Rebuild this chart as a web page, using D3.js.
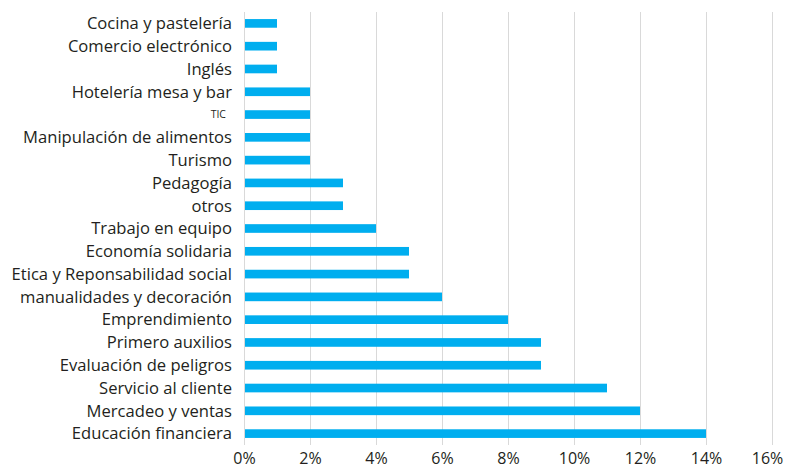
<!DOCTYPE html>
<html>
<head>
<meta charset="utf-8">
<script src="https://cdn.jsdelivr.net/npm/d3@7"></script>
<style>
  html, body { margin: 0; padding: 0; background: #fff; }
  svg { display: block; }
  text { font-family: "Open Sans", "Noto Sans", sans-serif; fill: #231f20; }
</style>
</head>
<body>
<svg id="chart" width="786" height="476"></svg>
<script>
// Course topics, top to bottom
const categories = [
  "Cocina y pastelería",
  "Comercio electrónico",
  "Inglés",
  "Hotelería mesa y bar",
  "TIC",
  "Manipulación de alimentos",
  "Turismo",
  "Pedagogía",
  "otros",
  "Trabajo en equipo",
  "Economía solidaria",
  "Etica y Reponsabilidad social",
  "manualidades y decoración",
  "Emprendimiento",
  "Primero auxilios",
  "Evaluación de peligros",
  "Servicio al cliente",
  "Mercadeo y ventas",
  "Educación financiera"
];
// Share of responses, in percent
const values = [1, 1, 1, 2, 2, 2, 2, 3, 3, 4, 5, 5, 6, 8, 9, 9, 11, 12, 14];
const tickValues = [0, 2, 4, 6, 8, 10, 12, 14, 16];

const svg = d3.select("#chart");
const margin = { top: 12, left: 244, right: 14, bottom: 31 };
const width = 786, height = 476;

const x = d3.scaleLinear().domain([0, 16]).range([margin.left, width - margin.right]);
const y = d3.scaleBand().domain(categories).range([margin.top, height - margin.bottom])
  .paddingInner(0.62).paddingOuter(0.31);

// Vertical gridlines
svg.append("g")
  .selectAll("line")
  .data(tickValues)
  .join("line")
  .attr("x1", d => Math.round(x(d)) + 0.5)
  .attr("x2", d => Math.round(x(d)) + 0.5)
  .attr("y1", margin.top)
  .attr("y2", height - margin.bottom)
  .attr("stroke", "#d9d9d9")
  .attr("stroke-width", 1);

// Bars
svg.append("g")
  .selectAll("rect")
  .data(values)
  .join("rect")
  .attr("x", x(0) + 1)
  .attr("y", (d, i) => y(categories[i]))
  .attr("width", d => x(d) - x(0) - 1)
  .attr("height", y.bandwidth())
  .attr("fill", "#00aeef");

// Category labels
svg.append("g")
  .selectAll("text")
  .data(categories)
  .join("text")
  .attr("x", d => d === "TIC" ? 226 : 232)
  .attr("y", d => y(d) + y.bandwidth() / 2)
  .attr("dy", "0.35em")
  .attr("text-anchor", "end")
  .style("font-size", d => d === "TIC" ? "10.5px" : "16.6px")
  .text(d => d);

// X axis tick labels
const xAxis = d3.axisBottom(x).tickValues(tickValues).tickFormat(d => d + "%").tickSize(0).tickPadding(0);
const gx = svg.append("g").attr("transform", `translate(0,${height - 18})`).call(xAxis);
gx.select(".domain").remove();
gx.selectAll("text")
  .attr("dy", "0.35em")
  .attr("y", 0)
  .attr("dx", d => d === 16 ? -5 : 0)
  .style("font-size", "16px")
  .style("font-family", "\"Open Sans\", \"Noto Sans\", sans-serif")
  .attr("fill", "#231f20");
</script>
</body>
</html>
